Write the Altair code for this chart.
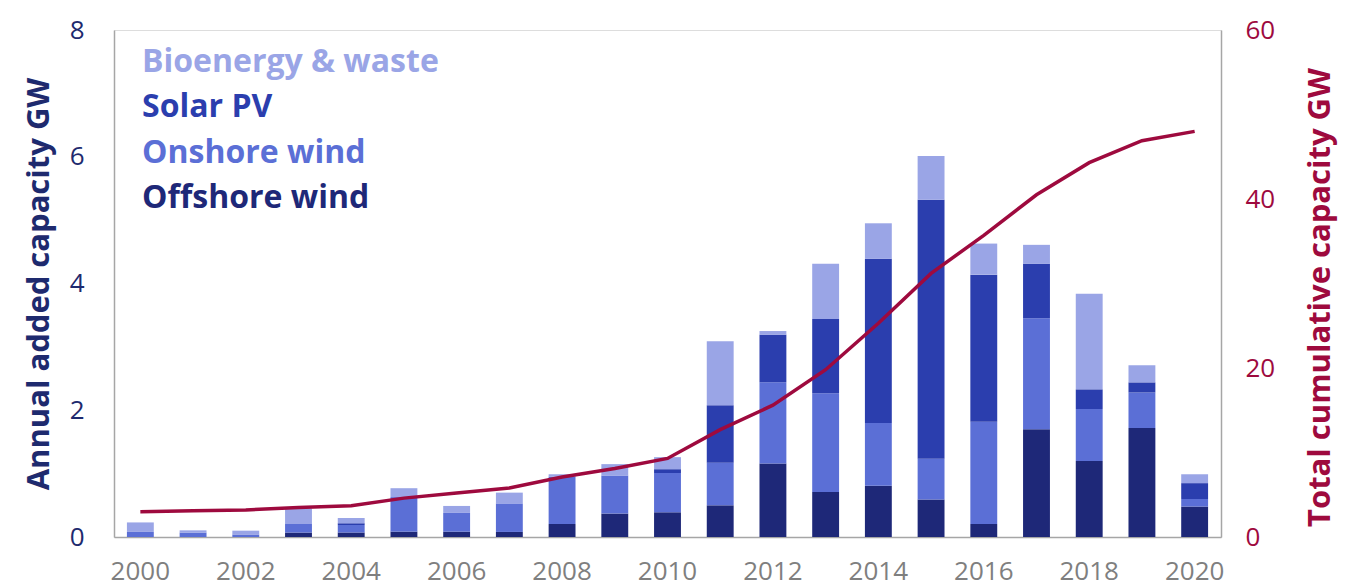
import altair as alt
import pandas as pd

years = list(range(2000, 2021))
offshore = [0, 0, 0, 0.07, 0.07, 0.085, 0.085, 0.08, 0.205, 0.37, 0.39, 0.50, 1.16, 0.71, 0.81, 0.59, 0.205, 1.70, 1.20, 1.72, 0.48]
onshore = [0.08, 0.07, 0.04, 0.135, 0.12, 0.545, 0.295, 0.45, 0.745, 0.60, 0.62, 0.67, 1.28, 1.56, 0.99, 0.645, 1.615, 1.75, 0.82, 0.56, 0.12]
solar = [0, 0, 0, 0, 0.025, 0, 0, 0, 0, 0, 0.06, 0.91, 0.75, 1.17, 2.59, 4.085, 2.32, 0.86, 0.31, 0.16, 0.25]
bio = [0.15, 0.035, 0.06, 0.245, 0.085, 0.14, 0.11, 0.17, 0.04, 0.18, 0.19, 1.01, 0.06, 0.87, 0.56, 0.69, 0.49, 0.30, 1.51, 0.27, 0.14]
cumulative = [3.0, 3.1, 3.2, 3.5, 3.7, 4.6, 5.2, 5.8, 7.1, 8.1, 9.3, 12.7, 15.6, 19.8, 25.3, 31.2, 35.7, 40.5, 44.3, 46.9, 48.0]

series = ["Offshore wind", "Onshore wind", "Solar PV", "Bioenergy & waste"]
colors = ["#1e2878", "#5b6fd6", "#2b3eae", "#9aa5e6"]
line_color = "#9e0a3e"
navy = "#1e2a6e"

rows = []
for i, y in enumerate(years):
    for k, (name, vals) in enumerate(zip(series, [offshore, onshore, solar, bio])):
        rows.append({"year": y, "source": name, "value": vals[i], "order": k})
bars_df = pd.DataFrame(rows)
line_df = pd.DataFrame({"year": years, "cumulative": cumulative})

FONT = "Open Sans"

x_enc = alt.X(
    "year:O",
    scale=alt.Scale(paddingInner=0.49, paddingOuter=0.245),
    axis=alt.Axis(
        title=None,
        values=list(range(2000, 2021, 2)),
        labelAngle=0,
        labelFontSize=26,
        labelColor="#7f7f7f",
        labelPadding=21,
        ticks=False,
        domainColor="#a6a6a6",
        domainWidth=1.5,
        labelFont=FONT,
    ),
)

bars = alt.Chart(bars_df).mark_bar().encode(
    x=x_enc,
    y=alt.Y(
        "value:Q",
        stack="zero",
        scale=alt.Scale(domain=[0, 8]),
        axis=alt.Axis(
            title="Annual added capacity GW",
            titleFontSize=31,
            titleFontWeight="bold",
            titleColor=navy,
            titleFont=FONT,
            titlePadding=14,
            values=[0, 2, 4, 6, 8],
            labelFontSize=26,
            labelColor=navy,
            labelFont=FONT,
            labelPadding=30,
            ticks=False,
            grid=False,
            domainColor="#a6a6a6",
            domainWidth=1.5,
        ),
    ),
    color=alt.Color("source:N", scale=alt.Scale(domain=series, range=colors), legend=None),
    order=alt.Order("order:Q", sort="ascending"),
)

line = alt.Chart(line_df).mark_line(color=line_color, strokeWidth=3.5, interpolate="linear").encode(
    x=alt.X("year:O"),
    y=alt.Y(
        "cumulative:Q",
        scale=alt.Scale(domain=[0, 60]),
        axis=alt.Axis(
            title="Total cumulative capacity GW",
            titleFontSize=31,
            titleFontWeight="bold",
            titleColor=line_color,
            titleFont=FONT,
            titleAngle=270,
            titlePadding=62,
            titleY=267,
            values=[0, 20, 40, 60],
            labelFontSize=26,
            labelColor=line_color,
            labelFont=FONT,
            labelPadding=24,
            ticks=False,
            grid=False,
            domainColor="#a6a6a6",
            domainWidth=1.5,
            orient="right",
        ),
    ),
)

legend_y = [32, 77, 123, 168]
legend_names = ["Bioenergy & waste", "Solar PV", "Onshore wind", "Offshore wind"]
legend_cols = [colors[3], colors[2], colors[1], colors[0]]
legend_layers = []
for name, col, yy in zip(legend_names, legend_cols, legend_y):
    legend_layers.append(
        alt.Chart(pd.DataFrame({"t": [name]})).mark_text(
            align="left", baseline="middle", fontSize=32, fontWeight="bold", font=FONT, color=col
        ).encode(x=alt.value(28), y=alt.value(yy), text="t:N")
    )

chart = (
    alt.layer(bars, line, *legend_layers)
    .resolve_scale(y="independent")
    .properties(
        width=1107,
        height=507,
        autosize=alt.AutoSizeParams(type="none"),
        padding={"left": 106, "top": 22, "right": 117, "bottom": 51},
    )
    .configure_view(stroke=None)
    .configure(background="white")
)

chart.save("out.html", embed_options={"renderer": "svg", "actions": False})
